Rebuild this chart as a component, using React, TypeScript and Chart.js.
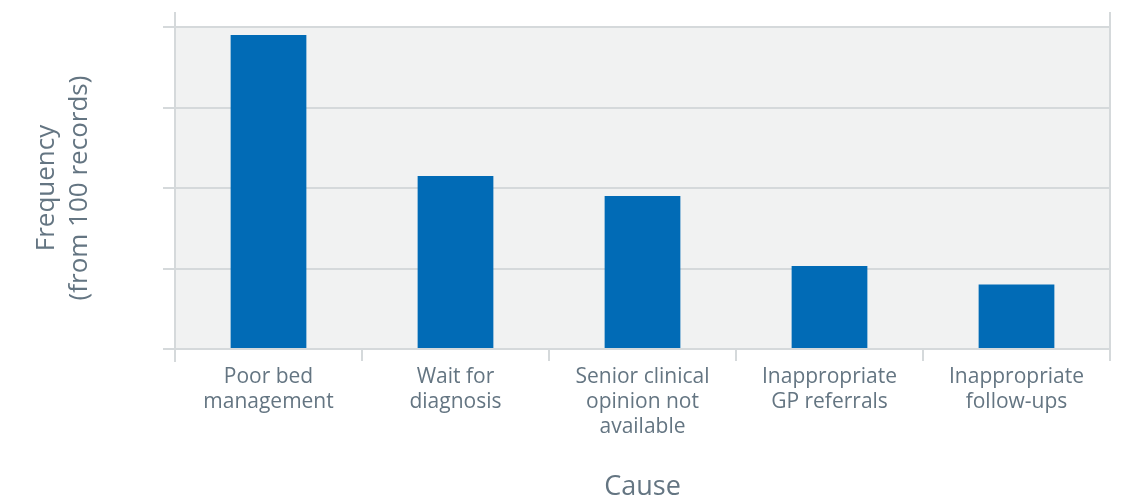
import React, { useEffect, useRef } from "react";
import { Chart, registerables } from "chart.js";

Chart.register(...registerables);

const categories: string[][] = [
  ["Poor bed", "management"],
  ["Wait for", "diagnosis"],
  ["Senior clinical", "opinion not", "available"],
  ["Inappropriate", "GP referrals"],
  ["Inappropriate", "follow-ups"],
];
const frequency: number[] = [39, 21.5, 19, 10.3, 8];
const yTicksMax = 40;
const yTickStep = 10;
const yTitle: string[] = ["Frequency", "(from 100 records)"];
const xTitle = "Cause";

const FONT = "'Open Sans', 'Noto Sans', sans-serif";
const TEXT = "#647582";
const GRID = "#d5d9db";

const framePlugin = {
  id: "frame",
  beforeDraw(chart: any) {
    const { ctx, chartArea } = chart;
    ctx.save();
    ctx.fillStyle = "#f1f2f2";
    ctx.fillRect(chartArea.left, chartArea.top, chartArea.right - chartArea.left, chartArea.bottom - chartArea.top);
    ctx.restore();
  },
  afterDraw(chart: any) {
    const { ctx, chartArea } = chart;
    ctx.save();
    ctx.strokeStyle = GRID;
    ctx.lineWidth = 2;
    ctx.beginPath();
    ctx.moveTo(chartArea.left, chartArea.top - 15);
    ctx.lineTo(chartArea.left, chartArea.bottom + 13);
    ctx.moveTo(chartArea.right, chartArea.top - 15);
    ctx.lineTo(chartArea.right, chartArea.bottom + 6);
    ctx.stroke();
    ctx.restore();
  },
};

export default function App() {
  const ref = useRef<HTMLCanvasElement>(null);
  useEffect(() => {
    if (!ref.current) return;
    const chart = new Chart(ref.current, {
      type: "bar",
      data: {
        labels: categories,
        datasets: [
          {
            data: frequency,
            backgroundColor: "#016bb6",
            borderWidth: 0,
            barPercentage: 0.405,
            categoryPercentage: 1,
          },
        ],
      },
      options: {
        animation: false,
        responsive: false,
        layout: { padding: { left: 0, right: 13, top: 27, bottom: 0 } },
        plugins: { legend: { display: false }, tooltip: { enabled: false } },
        scales: {
          x: {
            offset: true,
            grid: {
              offset: true,
              drawOnChartArea: false,
              drawTicks: true,
              tickLength: 12,
              color: GRID,
              lineWidth: 2,
            },
            border: { display: true, color: GRID, width: 2 },
            ticks: {
              color: TEXT,
              font: { family: FONT, size: 21, lineHeight: 1.19 },
              padding: 4,
              maxRotation: 0,
              autoSkip: false,
            },
            title: {
              display: true,
              text: xTitle,
              color: TEXT,
              font: { family: FONT, size: 27, lineHeight: 1.2 },
              padding: { top: 0, bottom: 0 },
            },
            afterFit: (s: any) => {
              s.height = 155;
            },
          },
          y: {
            min: 0,
            max: yTicksMax,
            ticks: { display: false, stepSize: yTickStep },
            grid: {
              color: GRID,
              lineWidth: 2,
              drawTicks: true,
              tickLength: 12,
            },
            border: { display: false },
            title: {
              display: true,
              text: yTitle,
              color: TEXT,
              font: { family: FONT, size: 26, lineHeight: 1.27 },
              padding: { top: 30, bottom: 0 },
            },
            afterFit: (s: any) => {
              s.width = 175;
            },
          },
        },
      },
      plugins: [framePlugin],
    });
    return () => chart.destroy();
  }, []);
  return (
    <div style={{ position: "absolute", left: 0, top: 0, width: 1123, height: 504, background: "#fff" }}>
      <canvas ref={ref} width={1123} height={504} style={{ display: "block" }} />
    </div>
  );
}
